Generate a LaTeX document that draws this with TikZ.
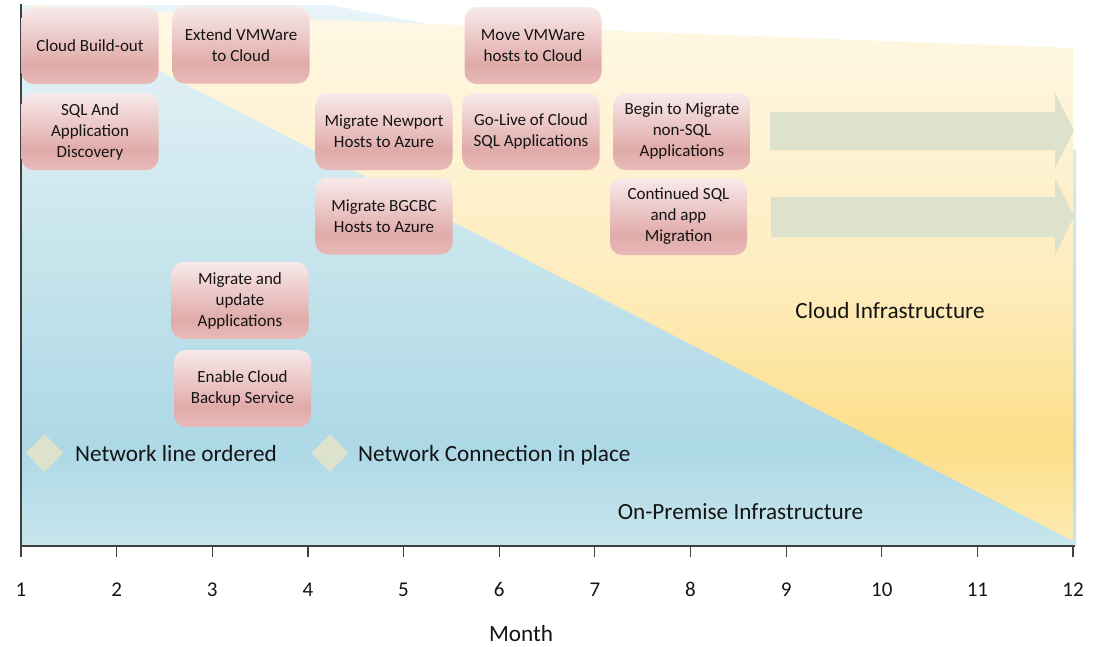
\documentclass[tikz,border=0pt]{standalone}
\usepackage{fontspec}
\setmainfont{Carlito}
\usetikzlibrary{shapes.geometric}
\definecolor{bT}{HTML}{E8F4F8}
\definecolor{bM}{HTML}{C4E3EB}
\definecolor{bD}{HTML}{ADD8E6}
\definecolor{bB}{HTML}{C8E6ED}
\definecolor{yT}{HTML}{FFF8E6}
\definecolor{yM}{HTML}{FEEDC0}
\definecolor{yD}{HTML}{FDDF8A}
\definecolor{yB}{HTML}{FEEAB0}
\definecolor{pT}{HTML}{F8EAEA}
\definecolor{pM}{HTML}{E0ABA9}
\definecolor{pB}{HTML}{E8BAB8}
\definecolor{arrowc}{HTML}{DCE2CB}
\definecolor{axisc}{HTML}{404040}
\definecolor{txt}{HTML}{141414}
\pgfdeclareverticalshading{blueshade}{100bp}{color(0bp)=(bB); color(25bp)=(bB); color(34bp)=(bD); color(50bp)=(bM); color(75bp)=(bT); color(100bp)=(bT)}
\pgfdeclareverticalshading{yelshade}{100bp}{color(0bp)=(yB); color(25bp)=(yB); color(34bp)=(yD); color(50bp)=(yM); color(75bp)=(yT); color(100bp)=(yT)}
\pgfdeclareverticalshading{pinkshade}{100bp}{color(0bp)=(pB); color(25bp)=(pB); color(38bp)=(pM); color(75bp)=(pT); color(100bp)=(pT)}
\begin{document}
\begin{tikzpicture}[x=1pt,y=-1pt,
  box/.style={rectangle, rounded corners=12pt, minimum width=137pt, minimum height=77pt, inner sep=2pt, align=center, shade, shading=pinkshade, text=txt, font=\fontsize{17}{21}\selectfont},
  diam/.style={diamond, fill=arrowc, minimum width=38pt, minimum height=38pt, inner sep=0pt},
  biglabel/.style={text=txt, font=\fontsize{23.2}{27}\selectfont, inner sep=0pt},
  numlabel/.style={text=txt, font=\fontsize{21}{24}\selectfont, inner sep=0pt, anchor=base}]
\useasboundingbox (0,0) rectangle (1093,646);
% regions
\path[shade, shading=blueshade] (21,5) -- (330,5) -- (1076,150) -- (1076,546) -- (21,546) -- cycle;
\path[shade, shading=yelshade] (32,5) -- (300,19) -- (1073,48) -- (1073,541) -- cycle;
% axes
\draw[axisc, line width=2pt] (21,4) -- (21,547);
\draw[axisc, line width=2.4pt] (20,546) -- (1075,546);
\foreach \i in {1,...,12}{
  \pgfmathsetmacro{\xx}{21+(\i-1)*95.64}
  \draw[axisc, line width=1.2pt] (\xx,546) -- (\xx,557);
  \node[numlabel] (n\i) at (\xx,596) {\i};
}
\node[biglabel, anchor=base] (month) at (521,641) {Month};
% arrows
\fill[arrowc] (770,112) -- (1055,112) -- (1055,93) -- (1074,130.5) -- (1055,168) -- (1055,150) -- (770,150) -- cycle;
\fill[arrowc] (771,197) -- (1055,197) -- (1055,178) -- (1074,216.5) -- (1055,255) -- (1055,237) -- (771,237) -- cycle;
% boxes
\node[box] (cb) at (90,45.5) {Cloud Build-out};
\node[box] (ev) at (241,45) {Extend VMWare\\to Cloud};
\node[box] (mv) at (533,45.5) {Move VMWare\\hosts to Cloud};
\node[box] (sql) at (90,131.5) {SQL And\\Application\\Discovery};
\node[box] (mn) at (384,131.5) {Migrate Newport\\Hosts to Azure};
\node[box] (gl) at (531,131.5) {Go-Live of Cloud\\SQL Applications};
\node[box] (bm) at (682,131.5) {Begin to Migrate\\non-SQL\\Applications};
\node[box] (mb) at (384,216) {Migrate BGCBC\\Hosts to Azure};
\node[box] (cs) at (678.5,216.5) {Continued SQL\\and app\\Migration};
\node[box] (mu) at (240,300.5) {Migrate and\\update\\Applications};
\node[box] (ec) at (242.5,388.5) {Enable Cloud\\Backup Service};
% milestones
\node[diam] (d1) at (44.5,453) {};
\node[diam] (d2) at (330,453) {};
\node[biglabel, anchor=base west] (nl) at (75,461) {Network line ordered};
\node[biglabel, anchor=base west] (nc) at (358,461) {Network Connection in place};
% region labels
\node[biglabel, anchor=base] (ci) at (890,318) {Cloud Infrastructure};
\node[biglabel, anchor=base] (op) at (740.5,519) {On-Premise Infrastructure};
\end{tikzpicture}
\end{document}
